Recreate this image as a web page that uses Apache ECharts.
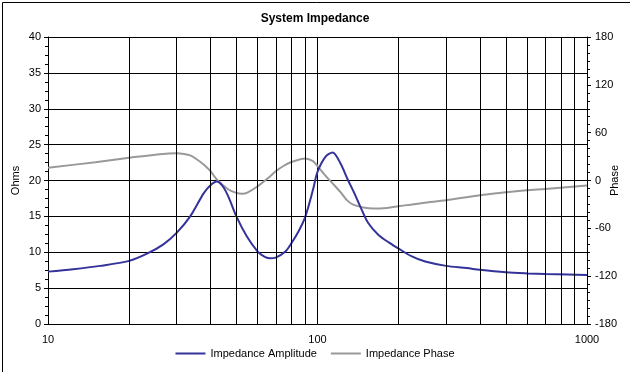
<!DOCTYPE html>
<html>
<head>
<meta charset="utf-8">
<script src="https://cdn.jsdelivr.net/npm/echarts@6/dist/echarts.min.js"></script>
<style>
html,body{margin:0;padding:0;background:#fff;}
#c{width:630px;height:372px;}
</style>
</head>
<body>
<div id="c"></div>
<script>
// Frequencies (Hz) and values
const ampFreq = [10, 12.4, 15.6, 20, 23.3, 26.8, 30, 33.7, 37.8, 40, 42.3, 44.5, 46.7, 50, 54.7, 60, 63.5, 66.8, 70, 76, 80, 85, 90, 96.2, 100, 107, 113.8, 121.6, 129.6, 136.7, 144, 154, 168, 185, 200, 224, 251, 300, 358, 400, 500, 600, 700, 850, 1000];
const ampOhms = [7.3, 7.63, 8.1, 8.8, 9.8, 11.1, 12.7, 15.0, 18.2, 19.3, 19.85, 19.2, 17.75, 15.0, 12.2, 10.1, 9.4, 9.15, 9.25, 10.1, 11.25, 12.9, 14.9, 18.7, 21.2, 23.3, 23.9, 22.4, 20.1, 18.3, 16.4, 14.1, 12.45, 11.3, 10.5, 9.42, 8.7, 8.1, 7.8, 7.55, 7.2, 7.05, 6.97, 6.9, 6.83];
const phaseFreq = [10, 15, 20, 25, 28, 30, 32, 33.7, 35.5, 37.8, 40, 42.3, 46.7, 50, 52.5, 54.7, 60, 66.8, 70, 75, 80, 90, 96.2, 100, 107, 114, 122, 128, 135, 148, 161, 181, 200, 246, 300, 400, 500, 700, 1000];
const phaseDeg = [16, 23, 28.6, 32.3, 33.9, 34.2, 33.3, 31.5, 27, 20.1, 12, 1.3, -11.3, -15.5, -16.5, -15.5, -7.2, 5.4, 11.5, 18.5, 23.2, 27.7, 24.3, 18, 6, -4, -15, -24, -30, -33.8, -35.2, -34.4, -32.3, -28.1, -24.8, -18.5, -14.8, -10.6, -6.4];
const gridFreqs = [20, 30, 40, 50, 60, 70, 80, 90, 200, 300, 400, 500, 600, 700, 800, 900];
const leftTicks = {min: 0, max: 40, interval: 5};
const rightTicks = {min: -180, max: 180, interval: 60};

const FONT = '"Liberation Sans", Arial, sans-serif';
const chart = echarts.init(document.getElementById('c'), null, {renderer: 'canvas'});
const pair = (xs, ys) => xs.map((x, i) => [x, ys[i]]);

chart.setOption({
  animation: false,
  backgroundColor: '#ffffff',
  textStyle: {fontFamily: FONT},
  title: {
    text: 'System Impedance', left: 'center', top: 8,
    textStyle: {fontFamily: FONT, fontSize: 12, fontWeight: 'bold', color: '#000'}
  },
  graphic: [{
    type: 'rect', left: 0, top: 0, silent: true,
    shape: {x: 0, y: 0, width: 629, height: 371},
    style: {fill: 'none', stroke: '#000', lineWidth: 1},
    position: [0.5, 0.5],
    z: 100
  }],
  legend: {
    bottom: 8, left: 'center', itemWidth: 30, itemHeight: 2, itemGap: 14,
    textStyle: {fontFamily: FONT, fontSize: 11, color: '#000'},
    data: [
      {name: 'Impedance Amplitude', icon: 'rect'},
      {name: 'Impedance Phase', icon: 'rect'}
    ]
  },
  grid: {left: 48, right: 43, top: 37, bottom: 48, containLabel: false, outerBoundsMode: 'none'},
  xAxis: {
    type: 'log', logBase: 10, min: 10, max: 1000,
    axisLine: {show: true, lineStyle: {color: '#000', width: 1}},
    axisTick: {show: false},
    axisLabel: {color: '#000', fontSize: 11, fontFamily: FONT, margin: 10, formatter: v => String(Math.round(v))},
    splitLine: {show: true, lineStyle: {color: '#000', width: 1}},
    minorTick: {show: false}, minorSplitLine: {show: false}
  },
  yAxis: [{
    type: 'value', min: leftTicks.min, max: leftTicks.max, interval: leftTicks.interval,
    name: 'Ohms', nameLocation: 'middle', nameGap: 27, nameRotate: 90, nameMoveOverlap: false,
    nameTextStyle: {fontFamily: FONT, fontSize: 11, color: '#000'},
    axisLine: {show: true, lineStyle: {color: '#000', width: 1}},
    axisTick: {show: true, inside: false, length: 4, lineStyle: {color: '#000'}},
    minorTick: {show: true, splitNumber: 4, length: 3, lineStyle: {color: '#000'}},
    axisLabel: {color: '#000', fontSize: 11, fontFamily: FONT, margin: 7},
    splitLine: {show: true, lineStyle: {color: '#000', width: 1}}
  }, {
    type: 'value', min: rightTicks.min, max: rightTicks.max, interval: rightTicks.interval,
    position: 'right',
    name: 'Phase', nameLocation: 'middle', nameGap: 22, nameRotate: 90, nameMoveOverlap: false,
    nameTextStyle: {fontFamily: FONT, fontSize: 11, color: '#000'},
    axisLine: {show: true, lineStyle: {color: '#000', width: 1}},
    axisTick: {show: true, inside: false, length: 4, lineStyle: {color: '#000'}},
    minorTick: {show: true, splitNumber: 6, length: 3, lineStyle: {color: '#000'}},
    axisLabel: {color: '#000', fontSize: 11, fontFamily: FONT, margin: 8},
    splitLine: {show: false}
  }],
  series: [{
    name: 'Impedance Amplitude', type: 'line', yAxisIndex: 0,
    data: pair(ampFreq, ampOhms), smooth: 0.3, showSymbol: false, symbol: 'none',
    lineStyle: {color: '#333399', width: 2}, itemStyle: {color: '#333399'}, z: 4,
    markLine: {
      silent: true, symbol: ['none', 'none'], animation: false,
      label: {show: false},
      lineStyle: {color: '#000', width: 1, type: 'solid'},
      emphasis: {disabled: true},
      data: gridFreqs.map(f => ({xAxis: f}))
    }
  }, {
    name: 'Impedance Phase', type: 'line', yAxisIndex: 1,
    data: pair(phaseFreq, phaseDeg), smooth: 0.3, showSymbol: false, symbol: 'none',
    lineStyle: {color: '#999999', width: 2}, itemStyle: {color: '#999999'}, z: 3
  }]
});
</script>
</body>
</html>
